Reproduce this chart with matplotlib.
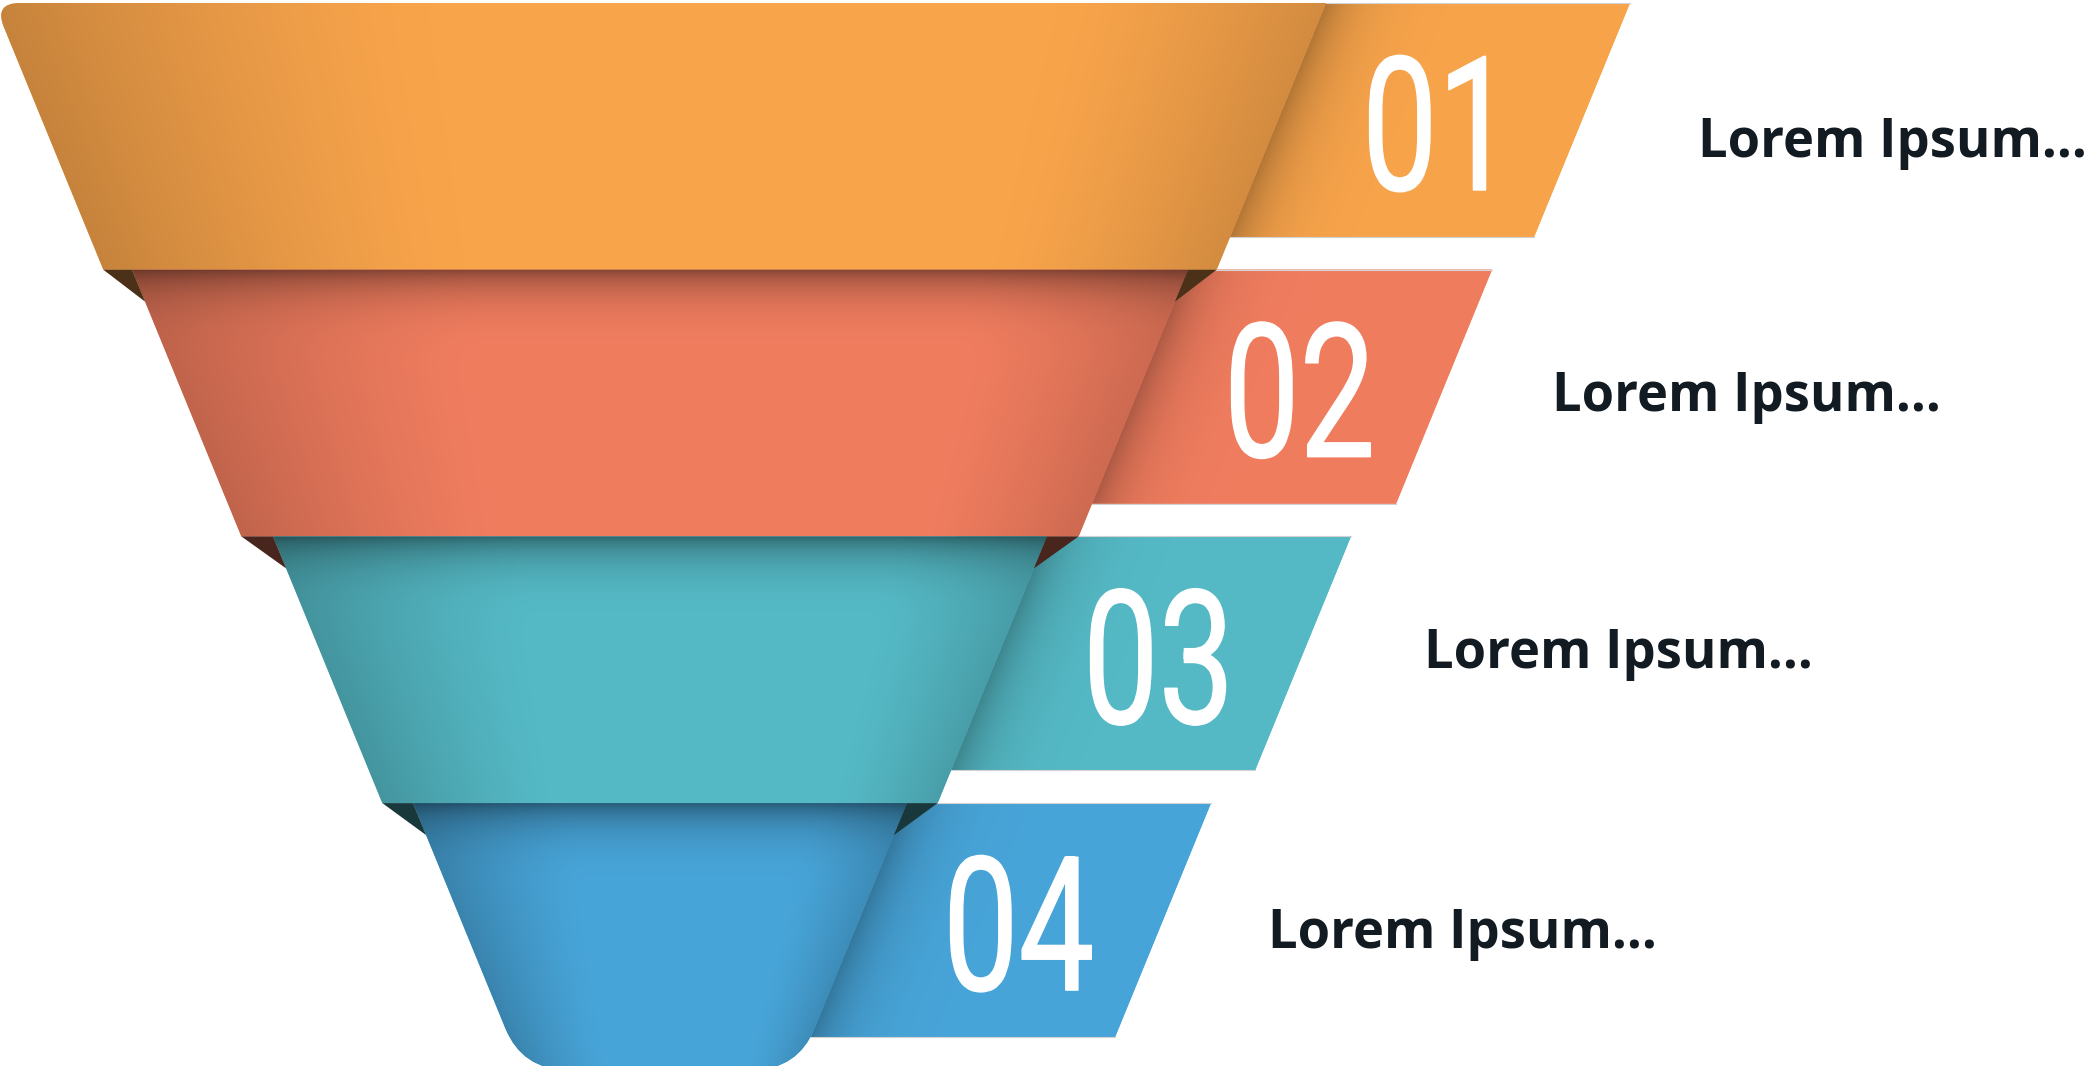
import numpy as np
import matplotlib
matplotlib.use("Agg")
import matplotlib.pyplot as plt
import matplotlib.patheffects as pe
from matplotlib.path import Path
from matplotlib.patches import PathPatch, Polygon
from matplotlib.transforms import Affine2D
from matplotlib.colors import to_rgb

# Stages of the funnel
steps = ["01", "02", "03", "04"]
captions = ["Lorem Ipsum...", "Lorem Ipsum...", "Lorem Ipsum...", "Lorem Ipsum..."]
colors = ["#F8A44B", "#F17D5F", "#55BAC6", "#48A5D9"]
top_width = [1332, 1056, 774, 494]      # funnel width at the top of each stage
caption_x = [1698, 1552, 1424, 1268]
caption_y = [157, 411, 668, 948]

W, H = 2087, 1066
cx = 660          # funnel axis
y0 = 3
band_h = 266.7
slope = 0.41      # x shift per unit of y on the slanted sides
tab_len = 304
tab_h = 234


class Squeeze(pe.AbstractPathEffect):
    """Draw text glyphs narrowed horizontally (condensed digits)."""

    def __init__(self, sx, lw=0.0):
        super().__init__()
        self.sx = sx
        self.lw = lw

    def draw_path(self, renderer, gc, tpath, affine, rgbFace=None):
        gc0 = renderer.new_gc()
        gc0.copy_properties(gc)
        gc0.set_linewidth(self.lw)
        gc0.set_foreground(rgbFace)
        renderer.draw_path(gc0, tpath, Affine2D().scale(self.sx, 1) + affine, rgbFace)
        gc0.restore()


def rounded(points, radii):
    verts, codes = [], []
    n = len(points)
    for k in range(n):
        p = np.array(points[k], float)
        r = radii[k]
        if r == 0:
            verts.append(p)
            codes.append(Path.LINETO)
            continue
        a = np.array(points[k - 1], float)
        b = np.array(points[(k + 1) % n], float)
        pa = p + r * (a - p) / np.linalg.norm(a - p)
        pb = p + r * (b - p) / np.linalg.norm(b - p)
        verts += [pa, p, pb]
        codes += [Path.LINETO, Path.CURVE3, Path.CURVE3]
    codes[0] = Path.MOVETO
    verts.append(verts[0])
    codes.append(Path.CLOSEPOLY)
    return Path(verts, codes)


fig = plt.figure(figsize=(W / 100, H / 100), dpi=100)
ax = fig.add_axes([0, 0, 1, 1])


def shaded(path, base, shade_fn, zorder):
    ext = path.get_extents()
    x0, x1 = np.floor(ext.x0), np.ceil(ext.x1)
    ya, yb = np.floor(ext.y0), np.ceil(ext.y1)
    X, Y = np.meshgrid(np.arange(x0, x1) + 0.5, np.arange(ya, yb) + 0.5)
    s = shade_fn(X, Y)
    rgb = np.clip(np.array(to_rgb(base))[None, None, :] * s[..., None], 0, 1)
    patch = PathPatch(path, facecolor=base, edgecolor="none", zorder=zorder)
    ax.add_patch(patch)
    im = ax.imshow(rgb, extent=(x0, x1, yb, ya), origin="upper", aspect="auto",
                   interpolation="bilinear", zorder=zorder)
    im.set_clip_path(patch)


def band_shade(i, yt, ht):
    def f(X, Y):
        half = ht - slope * (Y - yt)
        u = (X - cx) / half
        left = np.clip((-u - 0.35) / 0.65, 0, 1) ** 1.4
        right = np.clip((u - 0.6) / 0.4, 0, 1) ** 1.4
        s = 1 - 0.2 * left - 0.15 * right
        if i > 0:
            d = Y - yt
            s = s * (1 - 0.3 * np.exp(-d / 12) - 0.15 * np.exp(-(d / 40) ** 2))
        return s
    return f


def tab_shade(yt, edge_top):
    def f(X, Y):
        d = X - (edge_top - slope * (Y - yt))
        return 1 - 0.28 * np.exp(-np.clip(d, 0, None) / 32)
    return f


for i in range(len(steps)):
    yt = y0 + i * band_h
    yb = yt + band_h
    ht = top_width[i] / 2
    hb = ht - slope * band_h
    col = colors[i]

    # tab sticking out on the right, partly hidden behind the funnel
    et = cx + ht
    tab = [(et - 90, yt), (et + tab_len, yt),
           (et + tab_len - slope * tab_h, yt + tab_h), (et - slope * tab_h - 90, yt + tab_h)]
    shaded(Path(tab + [tab[0]], closed=True), col, tab_shade(yt, et), 1)
    ax.plot([et, et + tab_len], [yt, yt], color="#d2d2d2", lw=0.8, zorder=1.5)
    ax.plot([et - slope * tab_h, et + tab_len - slope * tab_h], [yt + tab_h, yt + tab_h],
            color="#d2d2d2", lw=0.8, zorder=1.5)

    # funnel band
    pts = [(cx - ht, yt), (cx + ht, yt), (cx + hb, yb), (cx - hb, yb)]
    radii = [0, 0, 0, 0]
    if i == 0:
        radii[0] = 26
    if i == len(steps) - 1:
        radii[2] = radii[3] = 45
    shaded(rounded(pts, radii), col, band_shade(i, yt, ht), 2)

    # dark inner corners below the band
    if i < len(steps) - 1:
        hn = top_width[i + 1] / 2
        dark = tuple(0.3 * c for c in to_rgb(col))
        for sgn in (-1, 1):
            tri = [(cx + sgn * hb, yb), (cx + sgn * hn, yb),
                   (cx + sgn * (hn - slope * 32), yb + 32)]
            ax.add_patch(Polygon(tri, closed=True, facecolor=dark, edgecolor="none", zorder=3))

    # stage number
    ax.text(et + 36, yt + 187, steps[i], fontsize=134.6, family="Roboto", color="white",
            ha="left", va="baseline", path_effects=[Squeeze(0.72, 1.0)], zorder=5)

    ax.text(caption_x[i], caption_y[i], captions[i], fontsize=37.8, family="Open Sans",
            weight="bold", color="#121A22", ha="left", va="baseline", zorder=5)

ax.set_xlim(0, W)
ax.set_ylim(H, 0)
ax.axis("off")
fig.savefig("out.png", dpi=100, facecolor="white")
